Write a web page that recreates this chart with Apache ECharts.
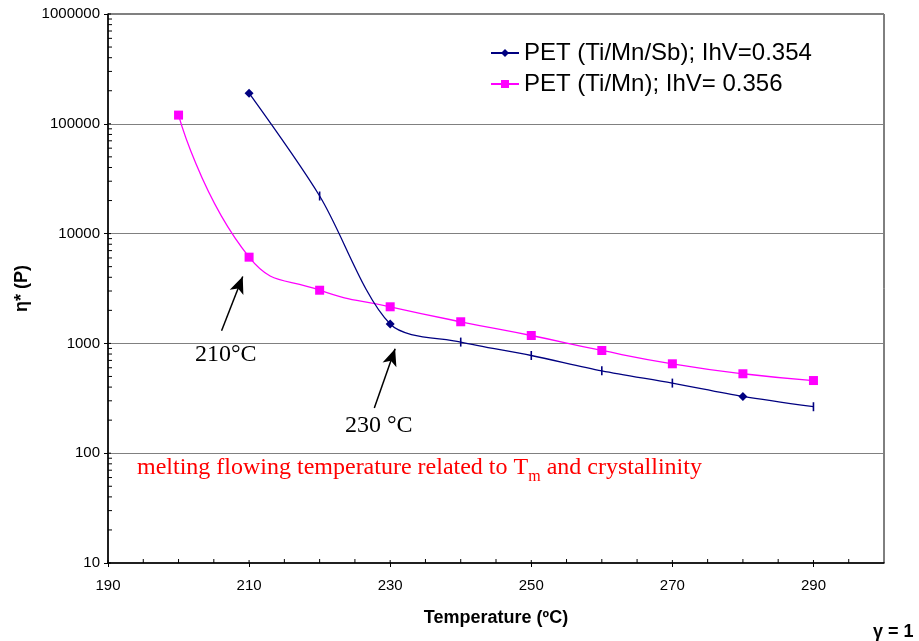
<!DOCTYPE html>
<html>
<head>
<meta charset="utf-8">
<script src="https://cdn.jsdelivr.net/npm/echarts@6/dist/echarts.min.js"></script>
<style>
  html, body { margin: 0; padding: 0; background: #ffffff; }
  #chart { width: 919px; height: 641px; }
</style>
</head>
<body>
<div id="chart"></div>
<script>
// Complex viscosity (poise) vs. temperature, gamma = 1
const tempsTiMnSb = [210, 220, 230, 240, 250, 260, 270, 280, 290];
const etaTiMnSb   = [190000, 22000, 1500, 1028, 776, 563, 435, 329, 265];

const tempsTiMn = [200, 210, 220, 230, 240, 250, 260, 270, 280, 290];
const etaTiMn   = [120000, 6100, 3050, 2155, 1574, 1180, 862, 652, 529, 459];

const seriesNames = ['PET (Ti/Mn/Sb); IhV=0.354', 'PET (Ti/Mn); IhV= 0.356'];

// axis tick values
const xMajorTicks = [190, 210, 230, 250, 270, 290];
const xMinorTicks = [195, 200, 205, 215, 220, 225, 235, 240, 245, 255, 260, 265, 275, 280, 285, 295];
const yMajorTicks = [10, 100, 1000, 10000, 100000, 1000000];
const yMinorTicks = [
  20, 30, 40, 50, 60, 70, 80, 90,
  200, 300, 400, 500, 600, 700, 800, 900,
  2000, 3000, 4000, 5000, 6000, 7000, 8000, 9000,
  20000, 30000, 40000, 50000, 60000, 70000, 80000, 90000,
  200000, 300000, 400000, 500000, 600000, 700000, 800000, 900000
];

// annotation arrows (tail -> head) in data space
const arrow210 = [[206.1, 1303], [209.1, 4063]];
const arrow230 = [[227.75, 258], [230.7, 893]];

// temperatures drawn with a diamond marker on the Ti/Mn/Sb curve (others: short bar)
const diamondTemps = [210, 230, 280];

const NAVY = '#000080';
const MAGENTA = '#ff00ff';
const SANS = '"Liberation Sans", Arial, sans-serif';
const SERIF = '"Liberation Serif", "Times New Roman", serif';

const chart = echarts.init(document.getElementById('chart'), null, { renderer: 'canvas' });

const sbData = tempsTiMnSb.map((t, i) => {
  const item = { value: [t, etaTiMnSb[i]] };
  if (diamondTemps.indexOf(t) < 0) {
    item.symbol = 'rect';
    item.symbolSize = [1.6, 9];
  }
  return item;
});
const mnData = tempsTiMn.map((t, i) => [t, etaTiMn[i]]);

function tickRenderer(dir, len) {
  return function (params, api) {
    const p = api.coord([api.value(0), api.value(1)]);
    const shape = dir === 'y'
      ? { x1: p[0], y1: p[1], x2: p[0] + len, y2: p[1] }
      : { x1: p[0], y1: p[1], x2: p[0], y2: p[1] - len };
    return { type: 'line', shape: shape, style: { stroke: '#000', lineWidth: 1 } };
  };
}

function arrowLine(pts) {
  return [{ coord: pts[0] }, { coord: pts[1] }];
}

const option = {
  backgroundColor: '#ffffff',
  animation: false,
  textStyle: { fontFamily: SANS },
  grid: {
    left: 108, top: 14, width: 776, height: 549,
    show: true, borderColor: '#000', borderWidth: 1,
    outerBoundsMode: 'none'
  },
  legend: {
    orient: 'vertical',
    left: 490, top: 41, padding: 0,
    itemWidth: 28, itemHeight: 10, itemGap: 7,
    data: seriesNames,
    textStyle: { fontFamily: SANS, fontSize: 24, color: '#000', lineHeight: 24 }
  },
  xAxis: {
    type: 'value', min: 190, max: 300, interval: 20,
    name: 'Temperature (ºC)',
    nameLocation: 'middle', nameGap: 46,
    nameTextStyle: {
      fontFamily: SANS, fontSize: 18, fontWeight: 'bold', color: '#000'
    },
    axisLine: { show: true, lineStyle: { color: '#000', width: 1.5 } },
    axisTick: { show: true, inside: false, length: 4, lineStyle: { color: '#000' } },
    axisLabel: {
      color: '#000', fontSize: 15, fontFamily: SANS, margin: 15,
      showMaxLabel: false,
      formatter: v => (xMajorTicks.indexOf(v) >= 0 ? String(v) : '')
    },
    splitLine: { show: false }
  },
  yAxis: {
    type: 'log', logBase: 10, min: 10, max: 1000000,
    name: 'η* (P)',
    nameLocation: 'middle', nameGap: 75,
    nameTextStyle: {
      fontFamily: SANS, fontSize: 18, fontWeight: 'bold', color: '#000'
    },
    axisLine: { show: true, lineStyle: { color: '#000', width: 1.5 } },
    axisTick: { show: true, inside: false, length: 4, lineStyle: { color: '#000' } },
    axisLabel: {
      color: '#000', fontSize: 15, fontFamily: SANS, margin: 8,
      formatter: v => String(Math.round(v))
    },
    splitLine: { show: true, lineStyle: { color: '#808080', width: 1.2 } }
  },
  series: [
    {
      name: seriesNames[0],
      type: 'line',
      data: sbData,
      smooth: 0.3,
      symbol: 'diamond',
      symbolSize: 9,
      lineStyle: { color: NAVY, width: 1.3 },
      itemStyle: { color: NAVY },
      color: NAVY,
      z: 4
    },
    {
      name: seriesNames[1],
      type: 'line',
      data: mnData,
      smooth: 0.5,
      symbol: 'rect',
      symbolSize: 9,
      lineStyle: { color: MAGENTA, width: 1.3 },
      itemStyle: { color: MAGENTA },
      color: MAGENTA,
      z: 3,
      markLine: {
        silent: true,
        symbol: ['none', 'arrow'],
        symbolSize: [11, 17],
        label: { show: false },
        lineStyle: { color: '#000', width: 1.5, type: 'solid' },
        data: [arrowLine(arrow210), arrowLine(arrow230)]
      }
    },
    {
      type: 'custom', silent: true, z: 5,
      data: yMinorTicks.map(v => [190, v]),
      renderItem: tickRenderer('y', 4)
    },
    {
      type: 'custom', silent: true, z: 5,
      data: yMajorTicks.map(v => [190, v]),
      renderItem: tickRenderer('y', 3)
    },
    {
      type: 'custom', silent: true, z: 5,
      data: xMinorTicks.map(v => [v, 10]),
      renderItem: tickRenderer('x', 4)
    },
    {
      type: 'custom', silent: true, z: 5,
      data: xMajorTicks.map(v => [v, 10]),
      renderItem: tickRenderer('x', 3)
    }
  ],
  graphic: [
    {
      type: 'text', left: 195, top: 343, z: 10,
      style: { text: '210°C', font: '24px ' + SERIF, fill: '#000' }
    },
    {
      type: 'text', left: 345, top: 414, z: 10,
      style: { text: '230 °C', font: '24px ' + SERIF, fill: '#000' }
    },
    {
      type: 'text', left: 137, top: 456, z: 10,
      style: {
        text: '{a|melting flowing temperature related to T}{s|m}{a| and crystallinity}',
        rich: {
          a: { fontFamily: SERIF, fontSize: 24, fill: '#ff0000', color: '#ff0000', lineHeight: 24, verticalAlign: 'top' },
          s: { fontFamily: SERIF, fontSize: 16, fill: '#ff0000', color: '#ff0000', lineHeight: 16, padding: [13, 0, 0, 0], verticalAlign: 'top' }
        }
      }
    },
    {
      type: 'text', left: 873, top: 623, z: 10,
      style: { text: 'γ = 1', font: 'bold 18px ' + SANS, fill: '#000' }
    }
  ]
};

chart.setOption(option);
</script>
</body>
</html>
